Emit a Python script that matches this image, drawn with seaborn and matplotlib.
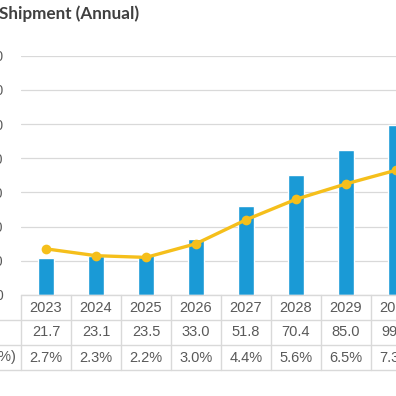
import numpy as np
import pandas as pd
import seaborn as sns
import matplotlib as mpl
import matplotlib.pyplot as plt
from matplotlib import transforms

mpl.use('Agg')

years = ['2023', '2024', '2025', '2026', '2027', '2028', '2029', '2030']
shipments = [21.7, 23.1, 23.5, 33.0, 51.8, 70.4, 85.0, 99.4]
penetration = [2.7, 2.3, 2.2, 3.0, 4.4, 5.6, 6.5, 7.3]
row_labels = ['Shipment (M)', 'Penetration Rate (%)']

BAR = '#1A9AD6'
LINE = '#F5BF1B'
GRID = '#D9D9D9'
TXT = '#595959'

sns.set_theme(style='white')
plt.rcParams['font.family'] = ['Liberation Sans', 'DejaVu Sans']

W = 396.0
fig = plt.figure(figsize=(3.96, 3.96), dpi=100)
# plot area: left edge at 21px, each column 50px wide, runs past the right edge
ax = fig.add_axes([21 / W, 1 - 295 / W, 400 / W, (295 - 55.7) / W])

df = pd.DataFrame({'year': years, 'ship': shipments, 'pen': penetration})
sns.barplot(data=df, x='year', y='ship', color=BAR, width=0.32, saturation=1, ax=ax)
ax.set_ylim(0, 140)
ax.set_yticks(np.arange(0, 141, 20))
ax.set_xlim(-0.5, 7.5)
ax.yaxis.grid(True, color=GRID, lw=0.9)
ax.set_axisbelow(True)
ax.tick_params(axis='y', length=0, pad=13, labelsize=10, labelcolor=TXT)
ax.set_xticks([])
ax.set_xlabel('')
ax.set_ylabel('')
for s in ax.spines.values():
    s.set_visible(False)

ax2 = ax.twinx()
sns.lineplot(x=np.arange(len(years)), y=penetration, ax=ax2, color=LINE, lw=2.4,
             marker='o', markersize=7, markeredgewidth=0)
ax2.set_ylim(0, 14)
ax2.set_xlim(-0.5, 7.5)
ax2.set_yticks([])
for s in ax2.spines.values():
    s.set_visible(False)

# data table under the chart, x in data units, y in pixels from the top
def py(p):
    return 1 - p / W

tr = transforms.blended_transform_factory(ax.transData, fig.transFigure)
px0 = -0.5 - 21 / 50.0  # figure left edge in data units
edge = dict(color=GRID, lw=1, transform=tr, clip_on=False)
ax.plot([-0.5, 8], [py(295), py(295)], **edge)
for yy in (320, 345, 370):
    ax.plot([px0 - 3, 8], [py(yy), py(yy)], **edge)
for k in range(9):
    ax.plot([k - 0.5, k - 0.5], [py(295), py(370)], **edge)

for i, y in enumerate(years):
    ax.text(i, py(307.5), y, ha='center', va='center', fontsize=10.5, color=TXT,
            transform=tr, clip_on=False)
    ax.text(i, py(332.5), f'{shipments[i]:.1f}', ha='center', va='center',
            fontsize=10.5, color=TXT, transform=tr, clip_on=False)
    ax.text(i, py(357.5), f'{penetration[i]:.1f}%', ha='center', va='center',
            fontsize=10.5, color=TXT, transform=tr, clip_on=False)

lab_x = -0.5 - 74 / 50.0
ax.text(lab_x, py(332.5), row_labels[0], ha='center', va='center', fontsize=10.5,
        color=TXT, transform=tr, clip_on=False)
ax.text(lab_x, py(357.5), row_labels[1], ha='center', va='center', fontsize=10.5,
        color=TXT, transform=tr, clip_on=False)

fig.text(-1 / W, py(14), 'Shipment (Annual)', ha='left', va='center', fontsize=12.3,
         fontweight='bold', color='#404040', family=['Lato', 'DejaVu Sans'])

fig.savefig('out.png', dpi=100)
